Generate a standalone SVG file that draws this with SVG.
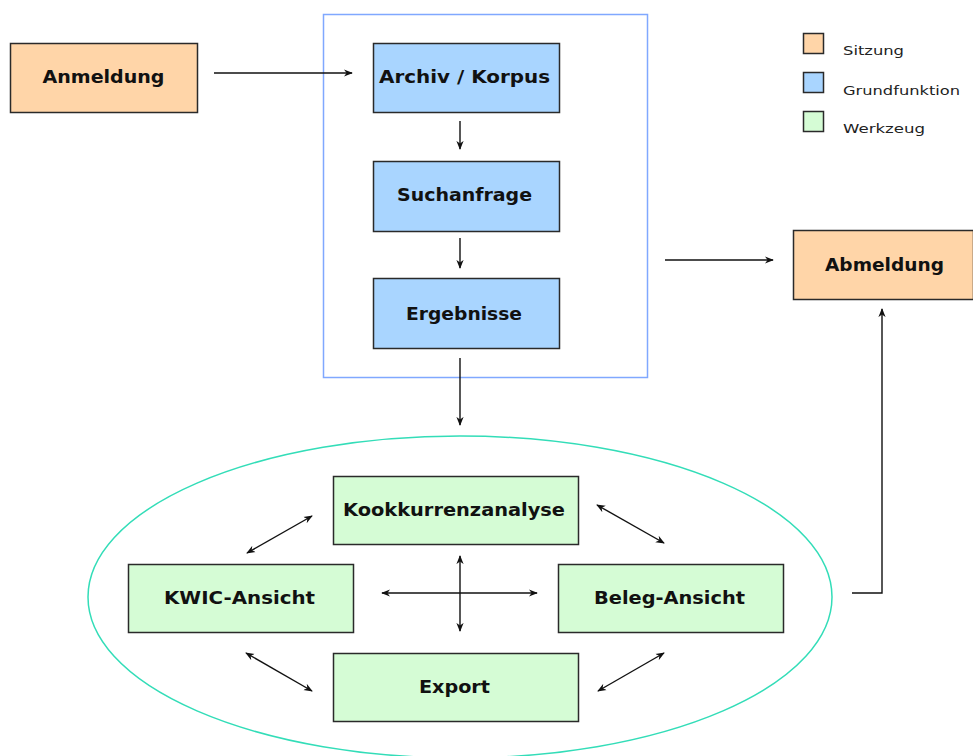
<svg xmlns="http://www.w3.org/2000/svg" width="973" height="756" viewBox="0 0 973 756">
<style>
.box{stroke:#2a2a2a;stroke-width:1.5}
.s{fill:#FFD5A8}
.g{fill:#A9D5FF}
.w{fill:#D5FCD5}
.t{font-family:"DejaVu Sans","Liberation Sans",sans-serif;font-weight:bold;font-size:17px;fill:#111;text-anchor:middle}
.lt{font-family:"DejaVu Sans","Liberation Sans",sans-serif;font-size:13px;fill:#222}
.c{stroke:#111;stroke-width:1.4;fill:none}
</style>
<defs>
<marker id="ah" viewBox="0 0 10 10" refX="9" refY="5" markerWidth="9" markerHeight="9" markerUnits="userSpaceOnUse" orient="auto-start-reverse">
<path d="M0,1 L10,5 L0,9 L3,5 Z" fill="#111"/>
</marker>
</defs>
<rect x="0" y="0" width="973" height="756" fill="#fff"/>
<g id="frame"><rect x="323.5" y="14.5" width="324" height="363" fill="none" stroke="#80A8FF" stroke-width="1.5"/></g>
<g id="tools-ellipse"><ellipse cx="460" cy="597" rx="372" ry="161" fill="none" stroke="#33DDB8" stroke-width="1.5"/></g>
<g id="legend">
<rect x="803.5" y="33.5" width="20" height="20" class="box s"/>
<rect x="803.5" y="72.5" width="20" height="20" class="box g"/>
<rect x="803.5" y="111.5" width="20" height="20" class="box w"/>
<text x="843" y="55" class="lt" textLength="61" lengthAdjust="spacingAndGlyphs">Sitzung</text>
<text x="843" y="95" class="lt" textLength="117" lengthAdjust="spacingAndGlyphs">Grundfunktion</text>
<text x="843" y="133" class="lt" textLength="82" lengthAdjust="spacingAndGlyphs">Werkzeug</text>
</g>
<g id="anmeldung"><rect x="10.5" y="43.5" width="187" height="69" class="box s"/><text x="103.5" y="83" class="t" textLength="122" lengthAdjust="spacingAndGlyphs">Anmeldung</text></g>
<g id="archiv"><rect x="373.5" y="43.5" width="186" height="69" class="box g"/><text x="464.5" y="83" class="t" textLength="171" lengthAdjust="spacingAndGlyphs">Archiv / Korpus</text></g>
<g id="suchanfrage"><rect x="373.5" y="161.5" width="186" height="70" class="box g"/><text x="464.5" y="201" class="t" textLength="135" lengthAdjust="spacingAndGlyphs">Suchanfrage</text></g>
<g id="ergebnisse"><rect x="373.5" y="278.5" width="186" height="70" class="box g"/><text x="464" y="320" class="t" textLength="116" lengthAdjust="spacingAndGlyphs">Ergebnisse</text></g>
<g id="abmeldung"><rect x="793.5" y="230.5" width="180" height="69" class="box s"/><text x="884.5" y="271" class="t" textLength="119" lengthAdjust="spacingAndGlyphs">Abmeldung</text></g>
<g id="kookkurrenz"><rect x="333.5" y="476.5" width="245" height="68" class="box w"/><text x="454" y="516" class="t" textLength="222" lengthAdjust="spacingAndGlyphs">Kookkurrenzanalyse</text></g>
<g id="kwic"><rect x="128.5" y="564.5" width="225" height="68" class="box w"/><text x="239.5" y="604" class="t" textLength="151" lengthAdjust="spacingAndGlyphs">KWIC-Ansicht</text></g>
<g id="beleg"><rect x="558.5" y="564.5" width="225" height="68" class="box w"/><text x="669.5" y="604" class="t" textLength="151" lengthAdjust="spacingAndGlyphs">Beleg-Ansicht</text></g>
<g id="export"><rect x="333.5" y="653.5" width="245" height="68" class="box w"/><text x="454.5" y="693" class="t" textLength="71" lengthAdjust="spacingAndGlyphs">Export</text></g>
<g id="connectors">
<line x1="214" y1="73" x2="352" y2="73" class="c" marker-end="url(#ah)"/>
<line x1="460" y1="121" x2="460" y2="149" class="c" marker-end="url(#ah)"/>
<line x1="460" y1="238" x2="460" y2="268" class="c" marker-end="url(#ah)"/>
<line x1="460" y1="358" x2="460" y2="425" class="c" marker-end="url(#ah)"/>
<line x1="665" y1="260" x2="773" y2="260" class="c" marker-end="url(#ah)"/>
<polyline points="852,593 882,593 882,309" class="c" marker-end="url(#ah)"/>
<line x1="382" y1="593" x2="537" y2="593" class="c" marker-start="url(#ah)" marker-end="url(#ah)"/>
<line x1="460" y1="556" x2="460" y2="631" class="c" marker-start="url(#ah)" marker-end="url(#ah)"/>
<line x1="247" y1="553" x2="312" y2="516" class="c" marker-start="url(#ah)" marker-end="url(#ah)"/>
<line x1="597" y1="505" x2="664" y2="543" class="c" marker-start="url(#ah)" marker-end="url(#ah)"/>
<line x1="246" y1="653" x2="312" y2="691" class="c" marker-start="url(#ah)" marker-end="url(#ah)"/>
<line x1="598" y1="691" x2="664" y2="653" class="c" marker-start="url(#ah)" marker-end="url(#ah)"/>
</g>
</svg>
